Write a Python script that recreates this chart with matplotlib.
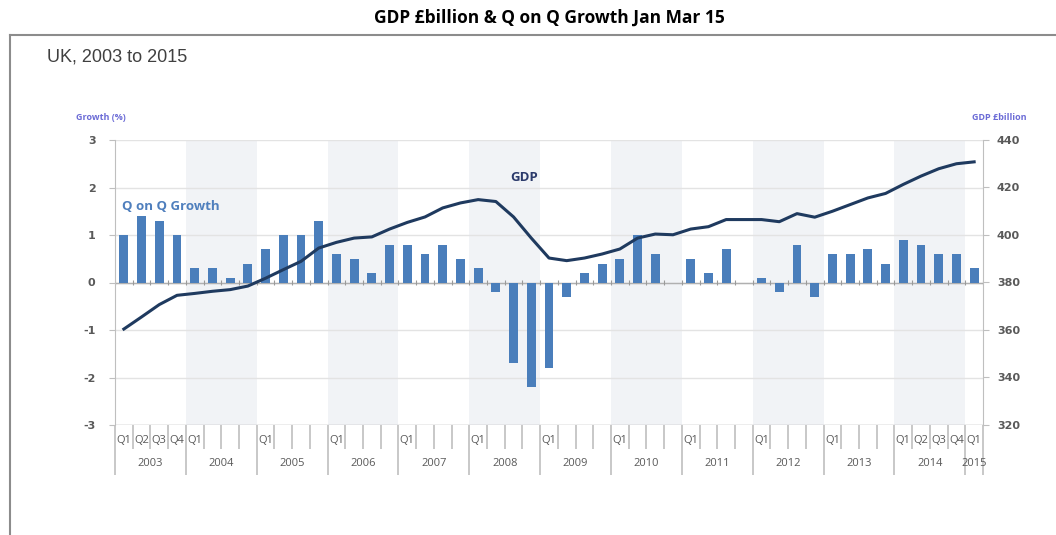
import numpy as np
import matplotlib
matplotlib.use("Agg")
import matplotlib.pyplot as plt
from matplotlib.lines import Line2D

# quarterly data, 2003 Q1 .. 2015 Q1
years = [2003, 2004, 2005, 2006, 2007, 2008, 2009, 2010, 2011, 2012, 2013, 2014, 2015]
growth = [1.0, 1.4, 1.3, 1.0,
          0.3, 0.3, 0.1, 0.4,
          0.7, 1.0, 1.0, 1.3,
          0.6, 0.5, 0.2, 0.8,
          0.8, 0.6, 0.8, 0.5,
          0.3, -0.2, -1.7, -2.2,
          -1.8, -0.3, 0.2, 0.4,
          0.5, 1.0, 0.6, 0.0,
          0.5, 0.2, 0.7, 0.0,
          0.1, -0.2, 0.8, -0.3,
          0.6, 0.6, 0.7, 0.4,
          0.9, 0.8, 0.6, 0.6,
          0.3]
gdp = [360.4, 365.5, 370.7, 374.6,
       375.4, 376.3, 377.0, 378.5,
       381.8, 385.4, 388.9, 394.5,
       396.9, 398.7, 399.2, 402.5,
       405.3, 407.6, 411.4, 413.5,
       414.9, 414.1, 407.6, 398.7,
       390.3, 389.2, 390.3, 392.0,
       394.1, 398.7, 400.4, 400.1,
       402.5, 403.5, 406.5, 406.5,
       406.5, 405.6, 409.0, 407.5,
       410.0, 412.8, 415.6, 417.5,
       421.3, 424.8, 427.9, 430.0,
       430.8]
left_ticks = [-3, -2, -1, 0, 1, 2, 3]
right_ticks = [320, 340, 360, 380, 400, 420, 440]

n = len(growth)
x = np.arange(n)

bar_col = '#4a7ebb'
line_col = '#1f3a5f'
grey_txt = '#595959'
axis_col = '#bfbfbf'

fig = plt.figure(figsize=(10.56, 5.35), dpi=100)

# outer frame and titles
fig.add_artist(Line2D([10/1056, 1.0], [1 - 35/535, 1 - 35/535], color='#8c8c8c', lw=1.5))
fig.add_artist(Line2D([10/1056, 10/1056], [0, 1 - 35/535], color='#8c8c8c', lw=1.5))
fig.text(0.52, 1 - 18/535, 'GDP £billion & Q on Q Growth Jan Mar 15', ha='center', va='center',
         fontsize=12.5, fontweight='bold', family='Open Sans')
fig.text(47/1056, 1 - 57/535, 'UK, 2003 to 2015', ha='left', va='center',
         fontsize=13, color='#404040', family='Liberation Sans')
fig.text(101/1056, 1 - 118/535, 'Growth (%)', ha='center', va='center',
         fontsize=6.5, fontweight='bold', color='#6b6bd6', family='Open Sans')
fig.text(999/1056, 1 - 118/535, 'GDP £billion', ha='center', va='center',
         fontsize=6.5, fontweight='bold', color='#6b6bd6', family='Open Sans')

ax = fig.add_axes([115/1056, 1 - 425/535, 868/1056, 285/535])
ax.set_xlim(-0.5, n - 0.5)
ax.set_ylim(-3, 3)

# alternating year shading
for k, yr in enumerate(years[:-1]):
    if k % 2 == 1:
        ax.axvspan(4*k - 0.5, 4*k + 3.5, color='#f1f3f6', zorder=0, lw=0)

for t in left_ticks:
    ax.axhline(t, color='#e3e3e3', lw=1, zorder=1)
ax.axhline(0, color='#b0b0b0', lw=1, zorder=2)
ax.vlines(np.arange(n + 1) - 0.5, -0.05, 0.05, color='#9a9a9a', lw=0.8, zorder=2)

ax.bar(x, growth, width=0.5, color=bar_col, zorder=3)

for s in ['top', 'bottom']:
    ax.spines[s].set_visible(False)
ax.spines['left'].set_color(axis_col)
ax.spines['right'].set_visible(False)
ax.spines['left'].set_bounds(-3, 3)

ax.set_yticks(left_ticks)
ax.set_yticklabels([str(t) for t in left_ticks])
ax.tick_params(axis='y', length=4, color=axis_col, labelsize=8, labelcolor=grey_txt, pad=10)
for lab in ax.get_yticklabels():
    lab.set_fontweight('bold')

# category axis: year boundaries long, quarter boundaries short
year_bounds = [4*k - 0.5 for k in range(len(years))] + [n - 0.5]
ax.set_xticks(year_bounds)
ax.set_xticks(np.arange(n + 1) - 0.5, minor=True)
ax.set_xticklabels([])
ax.tick_params(axis='x', which='major', length=36, color=axis_col, width=1.2)
ax.tick_params(axis='x', which='minor', length=17, color=axis_col, width=1.2)
ax.axhline(-3, color=axis_col, lw=1, zorder=2)

tr = ax.get_xaxis_transform()
for i in range(n):
    yr_idx, q = divmod(i, 4)
    if q == 0 or years[yr_idx] in (2003, 2014):
        ax.text(i, -0.055, 'Q%d' % (q + 1), transform=tr, ha='center', va='center',
                fontsize=8, color=grey_txt, family='Open Sans')
for k, yr in enumerate(years):
    end = min(4*k + 3.5, n - 0.5)
    ax.text((4*k - 0.5 + end) / 2, -0.135, str(yr), transform=tr, ha='center', va='center',
            fontsize=8, color=grey_txt, family='Open Sans')

ax.text(-0.1, 1.6, 'Q on Q Growth', ha='left', va='center', fontsize=9.5, fontweight='bold',
        color='#4f7fbd', family='Open Sans', zorder=5)

ax2 = ax.twinx()
ax2.set_ylim(320, 440)
ax2.plot(x, gdp, color=line_col, lw=2.2, zorder=4)
ax2.set_yticks(right_ticks)
ax2.tick_params(axis='y', length=4, color=axis_col, labelsize=8, labelcolor=grey_txt, pad=6)
for lab in ax2.get_yticklabels():
    lab.set_fontweight('bold')
for s in ['top', 'bottom', 'left']:
    ax2.spines[s].set_visible(False)
ax2.spines['right'].set_color(axis_col)
ax2.spines['right'].set_bounds(320, 440)
ax2.text(22.6, 424, 'GDP', ha='center', va='center', fontsize=9.5, fontweight='bold',
         color='#2b3a6b', family='Open Sans')

fig.savefig('out.png', dpi=100)
